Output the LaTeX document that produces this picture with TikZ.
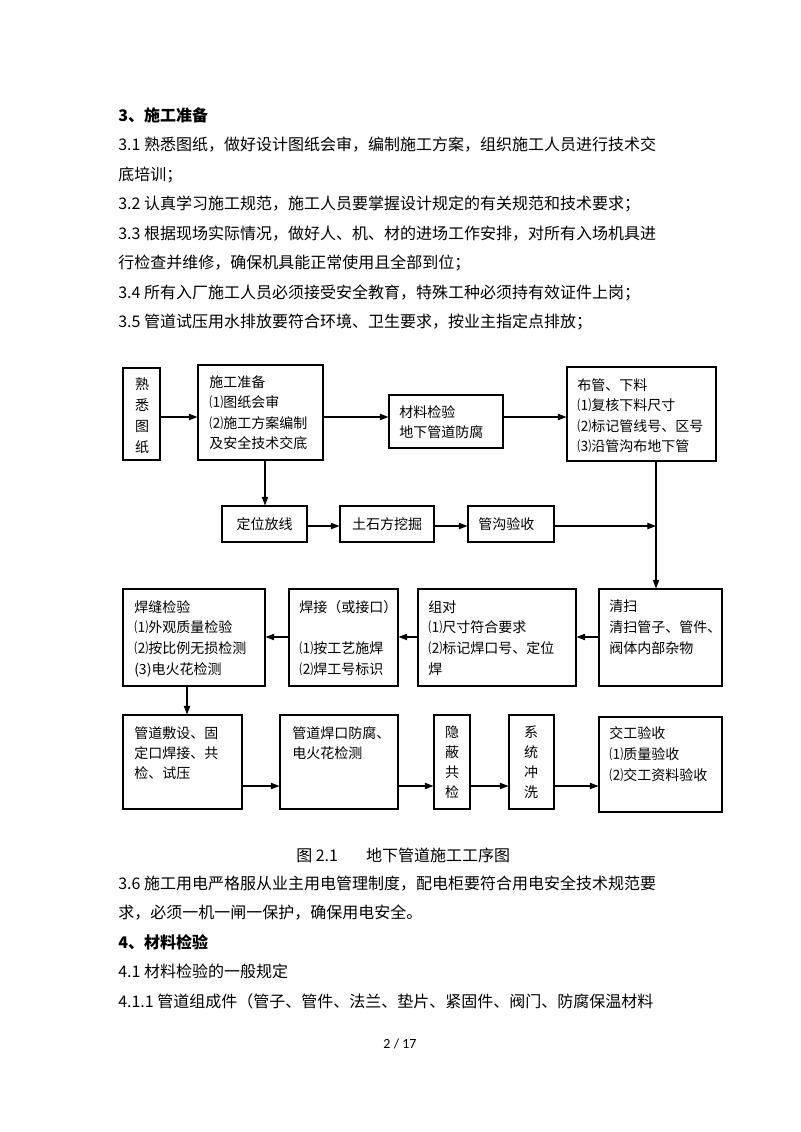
\documentclass[tikz,border=0pt]{standalone}
\usepackage{fontspec}
\setmainfont{Noto Sans CJK SC}
\newfontfamily\pagefont{Carlito}
\usetikzlibrary{arrows.meta,fit}
\begin{document}
\begin{tikzpicture}[x=0.75pt,y=-0.75pt,
  box/.style={draw, line width=0.8pt, inner sep=0pt},
  arr/.style={line width=0.8pt, -{Triangle[length=6.5pt,width=4.8pt]}},
  dtxt/.style={inner sep=0pt, anchor=base west, font=\fontsize{10.5}{12}\selectfont},
  dtxtc/.style={inner sep=0pt, anchor=base, font=\fontsize{10.5}{12}\selectfont},
  btxt/.style={inner sep=0pt, anchor=base west, font=\fontsize{12}{14}\selectfont}]
\fill[white] (0,0) rectangle (800,1132);
\useasboundingbox (0,0) rectangle (800,1132);

% ---------- body text above ----------
\foreach \yy/\txt [count=\i] in {
  121/{\bfseries 3、施工准备},
  150.5/{3.1 熟悉图纸，做好设计图纸会审，编制施工方案，组织施工人员进行技术交},
  180/{底培训；},
  209.5/{3.2 认真学习施工规范，施工人员要掌握设计规定的有关规范和技术要求；},
  239/{3.3 根据现场实际情况，做好人、机、材的进场工作安排，对所有入场机具进},
  268.5/{行检查并维修，确保机具能正常使用且全部到位；},
  298/{3.4 所有入厂施工人员必须接受安全教育，特殊工种必须持有效证件上岗；},
  327/{3.5 管道试压用水排放要符合环境、卫生要求，按业主指定点排放；}}
  \node[btxt] (top\i) at (118,\yy) {\txt};

% ---------- boxes ----------
\node[box, fit={(123,368)(160,460)}] (A) {};
\node[box, fit={(198,365)(323,460)}] (B) {};
\node[box, fit={(389,395)(503,448)}] (C) {};
\node[box, fit={(567,367)(716,461)}] (D) {};
\node[box, fit={(222,506)(307,542)}] (E) {};
\node[box, fit={(340,506)(434,542)}] (F) {};
\node[box, fit={(468,506)(554,542)}] (G) {};
\node[box, fit={(599,589)(722,686)}] (H) {};
\node[box, fit={(418,589)(576,686)}] (K) {};
\node[box, fit={(289,589)(398,686)}] (J) {};
\node[box, fit={(123,589)(265,686)}] (I) {};
\node[box, fit={(123,715)(242,809)}] (L) {};
\node[box, fit={(280,715)(398,809)}] (M) {};
\node[box, fit={(434,715)(470,809)}] (N) {};
\node[box, fit={(509,715)(554,809)}] (O) {};
\node[box, fit={(599,717)(722,812)}] (P) {};

% ---------- box texts ----------
\foreach \t [count=\i] in {熟,悉,图,纸}
  \node[dtxtc] (At\i) at (142,{389+21.3*(\i-1)}) {\t};
\foreach \t [count=\i] in {{施工准备},{⑴图纸会审},{⑵施工方案编制},{及安全技术交底}}
  \node[dtxt] (Bt\i) at (209,{387+20.6*(\i-1)}) {\t};
\node[dtxt] (Ct1) at (399,417) {材料检验};
\node[dtxt] (Ct2) at (399,437) {地下管道防腐};
\foreach \t [count=\i] in {{布管、下料},{⑴复核下料尺寸},{⑵标记管线号、区号},{⑶沿管沟布地下管}}
  \node[dtxt] (Dt\i) at (577,{390+20.6*(\i-1)}) {\t};
\node[dtxtc] (Et) at (264.5,529) {定位放线};
\node[dtxtc] (Ft) at (387,529) {土石方挖掘};
\node[dtxt] (Gt) at (478,529) {管沟验收};
\foreach \t [count=\i] in {{清扫},{清扫管子、管件、},{阀体内部杂物}}
  \node[dtxt] (Ht\i) at (609,{611.5+20.8*(\i-1)}) {\t};
\foreach \t [count=\i] in {{焊缝检验},{⑴外观质量检验},{⑵按比例无损检测},{(3)电火花检测}}
  \node[dtxt] (It\i) at (134,{612+20.7*(\i-1)}) {\t};
\node[dtxt] (Jt1) at (299,612) {焊接（或接口）};
\node[dtxt] (Jt2) at (299,653.4) {⑴按工艺施焊};
\node[dtxt] (Jt3) at (299,674) {⑵焊工号标识};
\foreach \t [count=\i] in {{组对},{⑴尺寸符合要求},{⑵标记焊口号、定位},{焊}}
  \node[dtxt] (Kt\i) at (428,{612+20.7*(\i-1)}) {\t};
\foreach \t [count=\i] in {{管道敷设、固},{定口焊接、共},{检、试压}}
  \node[dtxt] (Lt\i) at (134,{738+20*(\i-1)}) {\t};
\node[dtxt] (Mt1) at (292,738) {管道焊口防腐、};
\node[dtxt] (Mt2) at (292,758) {电火花检测};
\foreach \t [count=\i] in {隐,蔽,共,检}
  \node[dtxtc] (Nt\i) at (452,{737+20.3*(\i-1)}) {\t};
\foreach \t [count=\i] in {系,统,冲,洗}
  \node[dtxtc] (Ot\i) at (531,{737+20.3*(\i-1)}) {\t};
\foreach \t [count=\i] in {{交工验收},{⑴质量验收},{⑵交工资料验收}}
  \node[dtxt] (Pt\i) at (609,{738+21*(\i-1)}) {\t};

% ---------- connector guides ----------
\coordinate (r1) at (0,417);
\coordinate (r2) at (0,526);
\coordinate (r3) at (0,637);
\coordinate (r4) at (0,786);
\coordinate (v1) at (656,0);
\coordinate (v2) at (187,0);
\coordinate (v3) at (265,0);

% ---------- connectors ----------
\draw[arr] (A.east |- r1) -- (B.west |- r1);
\draw[arr] (B.east |- r1) -- (C.west |- r1);
\draw[arr] (C.east |- r1) -- (D.west |- r1);
\draw[arr] (v3 |- B.south) -- (v3 |- E.north);
\draw[arr] (E.east |- r2) -- (F.west |- r2);
\draw[arr] (F.east |- r2) -- (G.west |- r2);
\draw[arr] (G.east |- r2) -- (v1 |- r2);
\draw[arr] (v1 |- D.south) -- (v1 |- H.north);
\draw[arr] (H.west |- r3) -- (K.east |- r3);
\draw[arr] (K.west |- r3) -- (J.east |- r3);
\draw[arr] (J.west |- r3) -- (I.east |- r3);
\draw[arr] (v2 |- I.south) -- (v2 |- L.north);
\draw[arr] (L.east |- r4) -- (M.west |- r4);
\draw[arr] (M.east |- r4) -- (N.west |- r4);
\draw[arr] (N.east |- r4) -- (O.west |- r4);
\draw[arr] (O.east |- r4) -- (P.west |- r4);

% ---------- text below ----------
\node[btxt] (cap) at (296,861) {图 2.1\hspace{21pt}地下管道施工工序图};
\foreach \yy/\txt [count=\i] in {
  889/{3.6 施工用电严格服从业主用电管理制度，配电柜要符合用电安全技术规范要},
  918.5/{求，必须一机一闸一保护，确保用电安全。},
  948/{\bfseries 4、材料检验},
  977.5/{4.1 材料检验的一般规定},
  1007/{4.1.1 管道组成件（管子、管件、法兰、垫片、紧固件、阀门、防腐保温材料}}
  \node[btxt] (bot\i) at (118,\yy) {\txt};
\node[inner sep=0pt, anchor=base, font=\pagefont\fontsize{10.5}{12}\selectfont] (pg) at (400,1048) {2 / 17};
\end{tikzpicture}
\end{document}
